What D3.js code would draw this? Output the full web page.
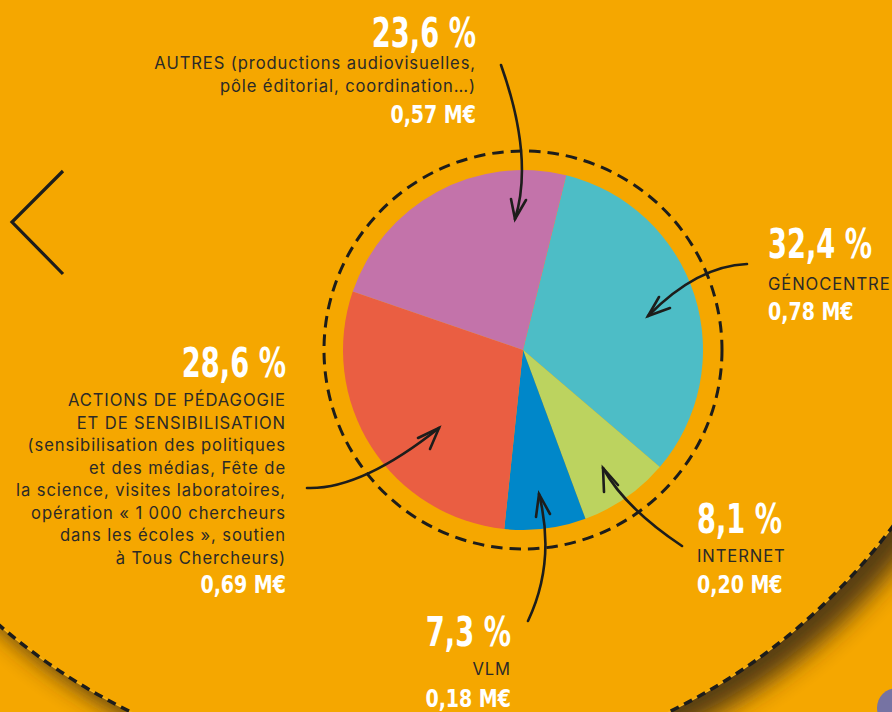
<!DOCTYPE html>
<html>
<head>
<meta charset="utf-8">
<script src="https://cdn.jsdelivr.net/npm/d3@7"></script>
<style>
html, body { margin: 0; padding: 0; background: #F5A700; overflow: hidden; }
svg { display: block; }
.big { font-family: 'DejaVu Sans Condensed', 'DejaVu Sans', sans-serif; font-weight: bold; fill: #fff; }
.desc { font-family: Inter, 'Noto Sans', sans-serif; fill: #2b2a28; }
</style>
</head>
<body>
<div id="chart"></div>
<script>
// the data
var categories = ["GÉNOCENTRE", "INTERNET", "VLM", "ACTIONS DE PÉDAGOGIE ET DE SENSIBILISATION", "AUTRES"];
var shares = [32.4, 8.1, 7.3, 28.6, 23.6];
var amounts = [0.78, 0.20, 0.18, 0.69, 0.57];
var descriptions = [
    ["GÉNOCENTRE"],
    ["INTERNET"],
    ["VLM"],
    ["ACTIONS DE PÉDAGOGIE", "ET DE SENSIBILISATION", "(sensibilisation des politiques", "et des médias, Fête de",
     "la science, visites laboratoires,", "opération « 1 000 chercheurs", "dans les écoles », soutien", "à Tous Chercheurs)"],
    ["AUTRES (productions audiovisuelles,", "pôle éditorial, coordination…)"]
];
var sliceColors = ["#4DBDC6", "#BCD35F", "#0087C9", "#EA5E42", "#C373AA"];

// where each label block sits
var labelLayout = [
    {x: 768, anchor: "start", pctY: 258, descY: 290, amtY: 320},
    {x: 697, anchor: "start", pctY: 533, descY: 562, amtY: 593},
    {x: 511, anchor: "end", pctY: 646, descY: 675, amtY: 707},
    {x: 286, anchor: "end", pctY: 377, descY: 406, amtY: 593},
    {x: 476, anchor: "end", pctY: 47, descY: 69, amtY: 123}
];

// hand drawn arrows: tail, control, tip, two wings
var arrows = [
    {d: "M747,264 Q697,266 648,316", wings: [[659, 297], [670, 308]], tip: [648, 316]},
    {d: "M682,546 Q625,508 603,468", wings: [[604, 492], [618, 485]], tip: [603, 468]},
    {d: "M528,621 Q556,562 539,494", wings: [[536, 517], [550, 514]], tip: [539, 494]},
    {d: "M307,488 Q361,490 439,428", wings: [[418, 438], [430, 449]], tip: [439, 428]},
    {d: "M501,65 Q534,158 515,219", wings: [[511, 199], [526, 200]], tip: [515, 219]}
];

const width = 892, height = 712;
const cx = 523, cy = 350, radius = 180, ringRadius = 199;
const startAngle = 13.9 * Math.PI / 180;
// big background disk
const bx = 400, by = 160, bigR = 614;
const ink = "#1d1d1b";

var fr = d3.formatLocale({decimal: ",", thousands: " ", grouping: [3], currency: ["", "€"]});
var fmtPct = fr.format(".1f");
var fmtAmt = fr.format(".2f");

const svg = d3.select("#chart").append("svg")
    .attr("width", width)
    .attr("height", height)
    .attr("viewBox", `0 0 ${width} ${height}`);

const defs = svg.append("defs");
defs.append("clipPath").attr("id", "outside")
    .append("path")
    .attr("clip-rule", "evenodd")
    .attr("d", `M0,0H${width}V${height}H0Z M${bx - bigR},${by} a${bigR},${bigR} 0 1,0 ${2 * bigR},0 a${bigR},${bigR} 0 1,0 ${-2 * bigR},0Z`);
defs.append("filter").attr("id", "blur")
    .attr("x", "-10%").attr("y", "-10%").attr("width", "120%").attr("height", "120%")
    .append("feGaussianBlur").attr("stdDeviation", 12);

svg.append("rect").attr("width", width).attr("height", height).attr("fill", "#F5A700");

// shadow outside the big disk
svg.append("g").attr("clip-path", "url(#outside)")
    .append("circle")
    .attr("cx", bx + 18).attr("cy", by + 10).attr("r", bigR + 6)
    .attr("fill", "#3a2a12").attr("opacity", 0.85)
    .attr("filter", "url(#blur)");

svg.append("circle")
    .attr("cx", bx).attr("cy", by).attr("r", bigR)
    .attr("fill", "none").attr("stroke", "#F9B51A").attr("stroke-width", 1.2);
svg.append("circle")
    .attr("cx", bx).attr("cy", by).attr("r", bigR)
    .attr("fill", "none").attr("stroke", ink).attr("stroke-width", 3.5)
    .attr("stroke-dasharray", "9,6");

// small purple dot in the corner
svg.append("circle").attr("cx", 897).attr("cy", 708).attr("r", 20).attr("fill", "#7673A3");

// the back chevron
svg.append("polyline")
    .attr("points", "63,171 12,222 63,274")
    .attr("fill", "none").attr("stroke", ink).attr("stroke-width", 3.2);

// dashed ring round the pie
svg.append("circle")
    .attr("cx", cx).attr("cy", cy).attr("r", ringRadius)
    .attr("fill", "none").attr("stroke", ink).attr("stroke-width", 3)
    .attr("stroke-dasharray", "11.5,7");

// the pie
const pie = d3.pie().sort(null).value(d => d)
    .startAngle(startAngle).endAngle(startAngle + 2 * Math.PI);
const arc = d3.arc().innerRadius(0).outerRadius(radius);

svg.append("g").attr("transform", `translate(${cx},${cy})`)
    .selectAll("path")
    .data(pie(shares))
    .enter()
    .append("path")
    .attr("d", arc)
    .attr("fill", (d, i) => sliceColors[i]);

// arrows
arrows.forEach(function(a) {
    svg.append("path").attr("d", a.d)
        .attr("fill", "none").attr("stroke", ink).attr("stroke-width", 2.6).attr("stroke-linecap", "round");
    svg.append("polyline")
        .attr("points", [a.wings[0], a.tip, a.wings[1]].map(p => p.join(",")).join(" "))
        .attr("fill", "none").attr("stroke", ink).attr("stroke-width", 2.6)
        .attr("stroke-linecap", "round").attr("stroke-linejoin", "miter");
});

// condensed white figures (no narrow font installed, so squeeze it)
function bigText(g, x, y, size, squeeze, str) {
    g.append("g").attr("transform", `translate(${x},${y}) scale(${squeeze},1)`)
        .append("text").attr("class", "big")
        .attr("font-size", size)
        .text(str);
}

// labels
categories.forEach(function(cat, i) {
    let lay = labelLayout[i];
    let g = svg.append("g").attr("text-anchor", lay.anchor);
    bigText(g, lay.x, lay.pctY, 41, 0.74, fmtPct(shares[i]) + " %");
    descriptions[i].forEach(function(line, j) {
        g.append("text").attr("class", "desc")
            .attr("x", lay.x).attr("y", lay.descY + j * 22.5)
            .attr("font-size", 16.6).attr("letter-spacing", 0.9)
            .text(line);
    });
    bigText(g, lay.x, lay.amtY, 24, 0.88, fmtAmt(amounts[i]) + " M€");
});
</script>
</body>
</html>
